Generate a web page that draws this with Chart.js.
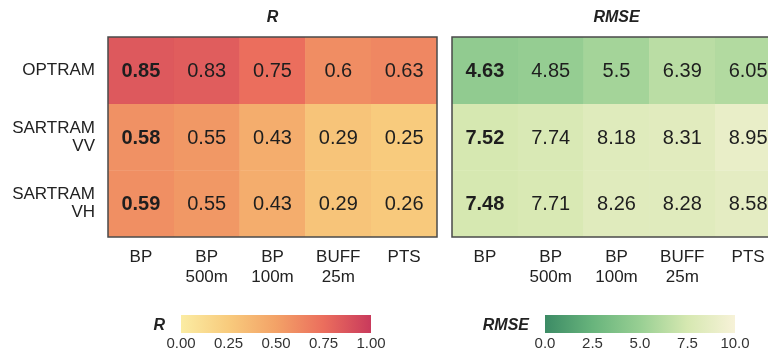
<!DOCTYPE html>
<html>
<head>
<meta charset="utf-8">
<script src="https://cdn.jsdelivr.net/npm/chart.js@4"></script>
<style>
  html, body { margin: 0; padding: 0; background: #fff; }
  body { width: 768px; height: 358px; overflow: hidden; position: relative; }
  canvas { position: absolute; }
</style>
</head>
<body>
<canvas id="heatR" width="445" height="300" style="left:0;top:0"></canvas>
<canvas id="heatRmse" width="360" height="300" style="left:440px;top:0"></canvas>
<canvas id="barR" width="300" height="58" style="left:100px;top:300px"></canvas>
<canvas id="barRmse" width="328" height="58" style="left:440px;top:300px"></canvas>
<script>
const rowLabels = ['OPTRAM', ['SARTRAM', 'VV'], ['SARTRAM', 'VH']];
const colLabels = ['BP', ['BP', '500m'], ['BP', '100m'], ['BUFF', '25m'], 'PTS'];
const rValues = [
    [0.85, 0.83, 0.75, 0.6, 0.63],
    [0.58, 0.55, 0.43, 0.29, 0.25],
    [0.59, 0.55, 0.43, 0.29, 0.26]
];
const rmseValues = [
    [4.63, 4.85, 5.5, 6.39, 6.05],
    [7.52, 7.74, 8.18, 8.31, 8.95],
    [7.48, 7.71, 8.26, 8.28, 8.58]
];
const rTicks = [0, 0.25, 0.5, 0.75, 1];
const rmseTicks = [0, 2.5, 5, 7.5, 10];

// colour scales (position 0..1 along the bar)
const rStops = [[0, '#fbeca3'], [0.25, '#f8cb7d'], [0.5, '#f3a267'], [0.75, '#eb6e5d'], [1, '#c93a5c']];
const rmseStops = [[0, '#3c8b65'], [0.25, '#68b47c'], [0.5, '#98cf93'], [0.75, '#d6e8b1'], [1, '#f7f2d8']];

const FONT = "'Liberation Sans', Arial, sans-serif";
Chart.defaults.font.family = FONT;
Chart.defaults.color = '#222';

function hexToRgb(h) {
    return [parseInt(h.slice(1, 3), 16), parseInt(h.slice(3, 5), 16), parseInt(h.slice(5, 7), 16)];
}
function colourAt(stops, t) {
    t = Math.max(0, Math.min(1, t));
    for (let i = 1; i < stops.length; i++) {
        if (t <= stops[i][0]) {
            const a = hexToRgb(stops[i - 1][1]), b = hexToRgb(stops[i][1]);
            const f = (t - stops[i - 1][0]) / (stops[i][0] - stops[i - 1][0]);
            const c = a.map((v, k) => Math.round(v + (b[k] - v) * f));
            return 'rgb(' + c.join(',') + ')';
        }
    }
    return stops[stops.length - 1][1];
}

// numbers in the cells, frame and panel title
const cellText = {
    id: 'cellText',
    afterDatasetsDraw(chart) {
        const ctx = chart.ctx;
        ctx.save();
        ctx.textAlign = 'center';
        ctx.textBaseline = 'middle';
        ctx.fillStyle = '#1e1e1e';
        chart.data.datasets.forEach((ds, i) => {
            chart.getDatasetMeta(i).data.forEach((bar, j) => {
                ctx.font = (j === 0 ? 'bold ' : '') + '20px ' + FONT;
                ctx.fillText(String(ds.values[j]), bar.x, (bar.y + bar.base) / 2 + 1);
            });
        });
        const a = chart.chartArea;
        ctx.strokeStyle = '#4a4a4a';
        ctx.lineWidth = 1.5;
        ctx.strokeRect(a.left, a.top, a.right - a.left, a.bottom - a.top);
        ctx.font = 'bold italic 16px ' + FONT;
        ctx.fillStyle = '#222';
        ctx.fillText(chart.options.plugins.cellText.title, (a.left + a.right) / 2, 18);
        ctx.restore();
    }
};

function heatmap(id, values, stops, min, max, title, showRows, pad) {
    new Chart(document.getElementById(id), {
        type: 'bar',
        data: {
            labels: colLabels,
            datasets: values.map((row, i) => ({
                data: row.map(() => [i, i + 1]),
                values: row,
                backgroundColor: row.map(v => colourAt(stops, (v - min) / (max - min))),
                borderColor: row.map(v => colourAt(stops, (v - min) / (max - min))),
                borderWidth: 0.5,
                grouped: false,
                barPercentage: 1,
                categoryPercentage: 1
            }))
        },
        options: {
            responsive: false,
            animation: false,
            devicePixelRatio: 1,
            layout: { padding: pad },
            plugins: {
                legend: { display: false },
                tooltip: { enabled: false },
                cellText: { title: title }
            },
            scales: {
                x: {
                    grid: { display: false, drawTicks: false },
                    border: { display: false },
                    ticks: {
                        font: { size: 17, lineHeight: 1.15 },
                        padding: 11,
                        maxRotation: 0,
                        autoSkip: false,
                        color: '#222'
                    },
                    afterFit: s => { s.height = 63; }
                },
                y: {
                    min: 0,
                    max: 3,
                    reverse: true,
                    grid: { display: false, drawTicks: false },
                    border: { display: false },
                    afterBuildTicks: s => { s.ticks = [0.5, 1.5, 2.5].map(v => ({ value: v })); },
                    ticks: {
                        display: showRows,
                        font: { size: 17, lineHeight: 1.05 },
                        padding: 13,
                        color: '#222',
                        callback: (v, i) => rowLabels[i]
                    },
                    afterFit: s => { s.width = showRows ? 108 : 0; }
                }
            }
        },
        plugins: [cellText]
    });
}

heatmap('heatR', rValues, rStops, 0, 1, 'R', true, { top: 37, right: 8, left: 0, bottom: 0 });
heatmap('heatRmse', rmseValues, rmseStops, 0, 10, 'RMSE', false, { top: 37, right: 19, left: 12, bottom: 0 });

// colour bar name to the left of the bar
const barName = {
    id: 'barName',
    afterDraw(chart) {
        const a = chart.chartArea;
        const ctx = chart.ctx;
        ctx.save();
        ctx.font = 'bold italic 16px ' + FONT;
        ctx.fillStyle = '#222';
        ctx.textAlign = 'right';
        ctx.textBaseline = 'middle';
        ctx.fillText(chart.data.labels[0], a.left - 16, (a.top + a.bottom) / 2 + 2);
        ctx.restore();
    }
};

function colourBar(id, name, ticks, stops, padLeft, padRight, digits) {
    const lo = ticks[0], hi = ticks[ticks.length - 1];
    new Chart(document.getElementById(id), {
        type: 'bar',
        data: {
            labels: [name],
            datasets: [{
                data: [[lo, hi]],
                backgroundColor: c => {
                    const a = c.chart.chartArea;
                    if (!a) return null;
                    const g = c.chart.ctx.createLinearGradient(a.left, 0, a.right, 0);
                    stops.forEach(s => g.addColorStop(s[0], s[1]));
                    return g;
                },
                borderWidth: 0,
                barThickness: 18
            }]
        },
        options: {
            indexAxis: 'y',
            responsive: false,
            animation: false,
            devicePixelRatio: 1,
            layout: { padding: { top: 15, right: padRight, left: padLeft, bottom: 0 } },
            plugins: { legend: { display: false }, tooltip: { enabled: false } },
            scales: {
                x: {
                    type: 'linear',
                    min: lo,
                    max: hi,
                    grid: { display: false, drawTicks: false },
                    border: { display: false },
                    afterBuildTicks: s => { s.ticks = ticks.map(v => ({ value: v })); },
                    ticks: {
                        font: { size: 15 },
                        padding: 2,
                        color: '#333',
                        maxRotation: 0,
                        callback: v => v.toFixed(digits)
                    },
                    afterFit: s => { s.height = 25; }
                },
                y: { display: false }
            }
        },
        plugins: [barName]
    });
}

colourBar('barR', 'R', rTicks, rStops, 81, 29, 2);
colourBar('barRmse', 'RMSE', rmseTicks, rmseStops, 105, 33, 1);
</script>
</body>
</html>
